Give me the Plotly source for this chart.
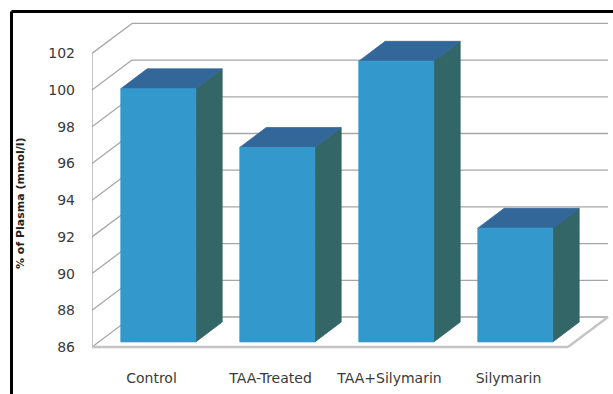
import plotly.graph_objects as go

# ---- data -------------------------------------------------------------
categories = ["Control", "TAA-Treated", "TAA+Silymarin", "Silymarin"]
values = [99.8, 96.6, 101.3, 92.2]
y_ticks = [86, 88, 90, 92, 94, 96, 98, 100, 102]

# ---- 3-D look: oblique projection of a depth axis -----------------------
Y_BASE = 86
Y_TOP = 102
DEPTH_X = 0.336      # category units per full depth
DEPTH_Y = 1.635      # value units per full depth
BAR_W = 0.63
BAR_D0, BAR_D1 = 0.17, 0.83

FRONT = "#3399cc"
TOP = "#336699"
SIDE = "#336666"
GRID = "#a6a6a6"
TEXT = "#3a3a3a"
FONT = "DejaVu Sans"


def proj(x, v, d):
    return x + d * DEPTH_X, v + d * DEPTH_Y


def poly(points):
    xs, ys = zip(*points)
    return list(xs) + [xs[0]], list(ys) + [ys[0]]


fig = go.Figure()

# walls: gridlines on the back wall and on the left side wall
gx, gy = [], []
n = len(categories)
for t in y_ticks:
    for a, b in ((proj(0, t, 1), proj(n, t, 1)), (proj(0, t, 0), proj(0, t, 1))):
        gx += [a[0], b[0], None]
        gy += [a[1], b[1], None]
# front edge of the side wall
gx += [0, 0, None]
gy += [Y_BASE, Y_TOP, None]
fig.add_trace(go.Scatter(x=gx, y=gy, mode="lines", line=dict(color=GRID, width=1.3),
                         hoverinfo="skip", showlegend=False))

# floor edges
fx, fy = [], []
for a, b in ((proj(0, Y_BASE, 0), proj(n, Y_BASE, 0)), (proj(n, Y_BASE, 0), proj(n, Y_BASE, 1))):
    fx += [a[0], b[0], None]
    fy += [a[1], b[1], None]
fig.add_trace(go.Scatter(x=fx, y=fy, mode="lines", line=dict(color="#c4c4c4", width=2.5),
                         hoverinfo="skip", showlegend=False))

# bars: side, top, then front face
for i, (cat, v) in enumerate(zip(categories, values)):
    xl = i + 0.5 - BAR_W / 2
    xr = i + 0.5 + BAR_W / 2
    faces = [
        ([proj(xr, Y_BASE, BAR_D0), proj(xr, v, BAR_D0), proj(xr, v, BAR_D1), proj(xr, Y_BASE, BAR_D1)], SIDE),
        ([proj(xl, v, BAR_D0), proj(xr, v, BAR_D0), proj(xr, v, BAR_D1), proj(xl, v, BAR_D1)], TOP),
        ([proj(xl, Y_BASE, BAR_D0), proj(xr, Y_BASE, BAR_D0), proj(xr, v, BAR_D0), proj(xl, v, BAR_D0)], FRONT),
    ]
    for pts, col in faces:
        px, py = poly(pts)
        fig.add_trace(go.Scatter(x=px, y=py, mode="lines", fill="toself", fillcolor=col,
                                 line=dict(color=col, width=0.8), name=cat,
                                 hovertemplate=f"{cat}: {v}<extra></extra>", showlegend=False))

# ---- layout -----------------------------------------------------------
W, H = 613, 394
ML, MB = 92, 34
PX_PER_CAT = 119.0
PX_PER_VAL = 18.35
BASE_PX = 347

plot_w = W - ML
plot_h = H - MB
x_range = [0, plot_w / PX_PER_CAT]
y_range = [Y_BASE - (plot_h - BASE_PX) / PX_PER_VAL, Y_BASE + BASE_PX / PX_PER_VAL]


def to_paper(px, py):
    return (px - ML) / plot_w, 1 - py / plot_h


fl, ft = to_paper(11.5, 11.5)
fr, fb = to_paper(W + 10, H + 10)

fig.update_layout(
    width=W, height=H,
    margin=dict(l=ML, r=0, t=0, b=MB),
    paper_bgcolor="white", plot_bgcolor="white",
    font=dict(family=FONT, color=TEXT, size=14),
    xaxis=dict(range=x_range, showgrid=False, zeroline=False, showline=False,
               tickvals=[i + 0.5 for i in range(n)], ticktext=categories,
               ticklabelstandoff=8, tickfont=dict(size=14, color=TEXT, family=FONT)),
    yaxis=dict(range=y_range, showgrid=False, zeroline=False, showline=False,
               tickvals=y_ticks, ticklabelstandoff=16,
               tickfont=dict(size=14, color=TEXT, family=FONT)),
    shapes=[
        dict(type="line", xref="paper", yref="paper", x0=fl, y0=ft, x1=fl, y1=fb,
             line=dict(color="black", width=3)),
        dict(type="line", xref="paper", yref="paper", x0=fl, y0=ft, x1=fr, y1=ft,
             line=dict(color="black", width=3)),
    ],
    annotations=[
        dict(text="% of Plasma (mmol/l)", xref="paper", yref="paper",
             x=to_paper(20, 0)[0], y=to_paper(0, 203)[1], textangle=-90,
             showarrow=False, font=dict(family=FONT, size=11, color="#222222", weight="bold"),
             xanchor="center", yanchor="middle"),
    ],
)

fig.write_html("out.html")
